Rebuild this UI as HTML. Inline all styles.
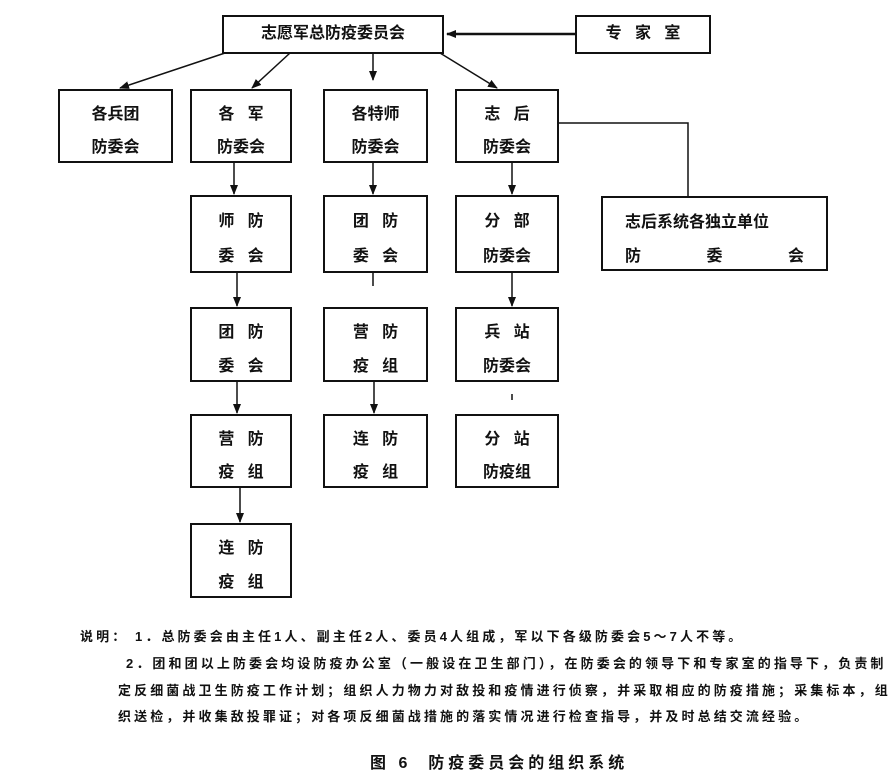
<!DOCTYPE html>
<html><head><meta charset="utf-8"><style>
body{margin:0;background:#fff;width:894px;height:773px;position:relative;overflow:hidden;font-family:"Liberation Sans","Noto Sans CJK SC",sans-serif;color:#111}
.b{position:absolute;border:2.5px solid #111;box-sizing:border-box;font-size:16px;font-weight:bold;text-align:center}
.b div{position:absolute;left:0;right:0}
.t{position:absolute;font-size:13px;font-weight:bold;white-space:nowrap;letter-spacing:3.1px}
</style></head><body>
<svg width="894" height="773" style="position:absolute;left:0;top:0">
<defs><marker id="a" markerWidth="10" markerHeight="8" refX="9" refY="4" orient="auto" markerUnits="userSpaceOnUse"><path d="M0,0L10,4L0,8z" fill="#111"/></marker></defs>
<g stroke="#111" stroke-width="1.5" fill="none">
<line x1="575" y1="34" x2="447" y2="34" stroke-width="2.5" marker-end="url(#a)"/>
<line x1="225" y1="53" x2="120" y2="88" marker-end="url(#a)"/>
<line x1="290" y1="53" x2="252" y2="88" marker-end="url(#a)"/>
<line x1="373" y1="53" x2="373" y2="80" marker-end="url(#a)"/>
<line x1="440" y1="53" x2="497" y2="88" marker-end="url(#a)"/>
<polyline points="558,123 688,123 688,196"/>
<line x1="234" y1="162" x2="234" y2="194" marker-end="url(#a)"/>
<line x1="373" y1="162" x2="373" y2="194" marker-end="url(#a)"/>
<line x1="512" y1="162" x2="512" y2="194" marker-end="url(#a)"/>
<line x1="237" y1="272" x2="237" y2="306" marker-end="url(#a)"/>
<line x1="373" y1="272" x2="373" y2="286"/>
<line x1="512" y1="272" x2="512" y2="306" marker-end="url(#a)"/>
<line x1="237" y1="381" x2="237" y2="413" marker-end="url(#a)"/>
<line x1="374" y1="381" x2="374" y2="413" marker-end="url(#a)"/>
<line x1="512" y1="394" x2="512" y2="400"/>
<line x1="240" y1="487" x2="240" y2="522" marker-end="url(#a)"/>
</g></svg>
<div class="b" style="left:222px;top:15px;width:222px;height:39px;line-height:34px">志愿军总防疫委员会</div>
<div class="b" style="left:575px;top:15px;width:136px;height:39px;line-height:34px;word-spacing:0">专&nbsp;&nbsp;&nbsp;家&nbsp;&nbsp;&nbsp;室</div>
<div class="b" style="left:58px;top:89px;width:115px;height:74px"><div style="top:9px">各兵团</div><div style="top:42px">防委会</div></div>
<div class="b" style="left:190px;top:89px;width:102px;height:74px"><div style="top:9px">各&nbsp;&nbsp;&nbsp;军</div><div style="top:42px">防委会</div></div>
<div class="b" style="left:323px;top:89px;width:105px;height:74px"><div style="top:9px">各特师</div><div style="top:42px">防委会</div></div>
<div class="b" style="left:455px;top:89px;width:104px;height:74px"><div style="top:9px">志&nbsp;&nbsp;&nbsp;后</div><div style="top:42px">防委会</div></div>
<div class="b" style="left:601px;top:196px;width:227px;height:75px;text-align:left"><div style="top:10px;left:22px">志后系统各独立单位</div><div style="top:44px;left:22px;right:22px;display:flex;justify-content:space-between"><span>防</span><span>委</span><span>会</span></div></div>
<div class="b" style="left:190px;top:195px;width:102px;height:78px"><div style="top:10px">师&nbsp;&nbsp;&nbsp;防</div><div style="top:45px">委&nbsp;&nbsp;&nbsp;会</div></div>
<div class="b" style="left:323px;top:195px;width:105px;height:78px"><div style="top:10px">团&nbsp;&nbsp;&nbsp;防</div><div style="top:45px">委&nbsp;&nbsp;&nbsp;会</div></div>
<div class="b" style="left:455px;top:195px;width:104px;height:78px"><div style="top:10px">分&nbsp;&nbsp;&nbsp;部</div><div style="top:45px">防委会</div></div>
<div class="b" style="left:190px;top:307px;width:102px;height:75px"><div style="top:9px">团&nbsp;&nbsp;&nbsp;防</div><div style="top:43px">委&nbsp;&nbsp;&nbsp;会</div></div>
<div class="b" style="left:323px;top:307px;width:105px;height:75px"><div style="top:9px">营&nbsp;&nbsp;&nbsp;防</div><div style="top:43px">疫&nbsp;&nbsp;&nbsp;组</div></div>
<div class="b" style="left:455px;top:307px;width:104px;height:75px"><div style="top:9px">兵&nbsp;&nbsp;&nbsp;站</div><div style="top:43px">防委会</div></div>
<div class="b" style="left:190px;top:414px;width:102px;height:74px"><div style="top:9px">营&nbsp;&nbsp;&nbsp;防</div><div style="top:42px">疫&nbsp;&nbsp;&nbsp;组</div></div>
<div class="b" style="left:323px;top:414px;width:105px;height:74px"><div style="top:9px">连&nbsp;&nbsp;&nbsp;防</div><div style="top:42px">疫&nbsp;&nbsp;&nbsp;组</div></div>
<div class="b" style="left:455px;top:414px;width:104px;height:74px"><div style="top:9px">分&nbsp;&nbsp;&nbsp;站</div><div style="top:42px">防疫组</div></div>
<div class="b" style="left:190px;top:523px;width:102px;height:75px"><div style="top:9px">连&nbsp;&nbsp;&nbsp;防</div><div style="top:43px">疫&nbsp;&nbsp;&nbsp;组</div></div>
<div class="t" style="left:80px;top:626px">说明：&nbsp;1．总防委会由主任1人、副主任2人、委员4人组成，军以下各级防委会5～7人不等。</div>
<div class="t" style="left:126px;top:653px">2．团和团以上防委会均设防疫办公室（一般设在卫生部门），在防委会的领导下和专家室的指导下，负责制</div>
<div class="t" style="left:118px;top:680px">定反细菌战卫生防疫工作计划；组织人力物力对敌投和疫情进行侦察，并采取相应的防疫措施；采集标本，组</div>
<div class="t" style="left:118px;top:706px">织送检，并收集敌投罪证；对各项反细菌战措施的落实情况进行检查指导，并及时总结交流经验。</div>
<div class="t" style="left:370px;top:749px;font-size:16px;letter-spacing:4px">图 6&nbsp;&nbsp;防疫委员会的组织系统</div>
</body></html>
